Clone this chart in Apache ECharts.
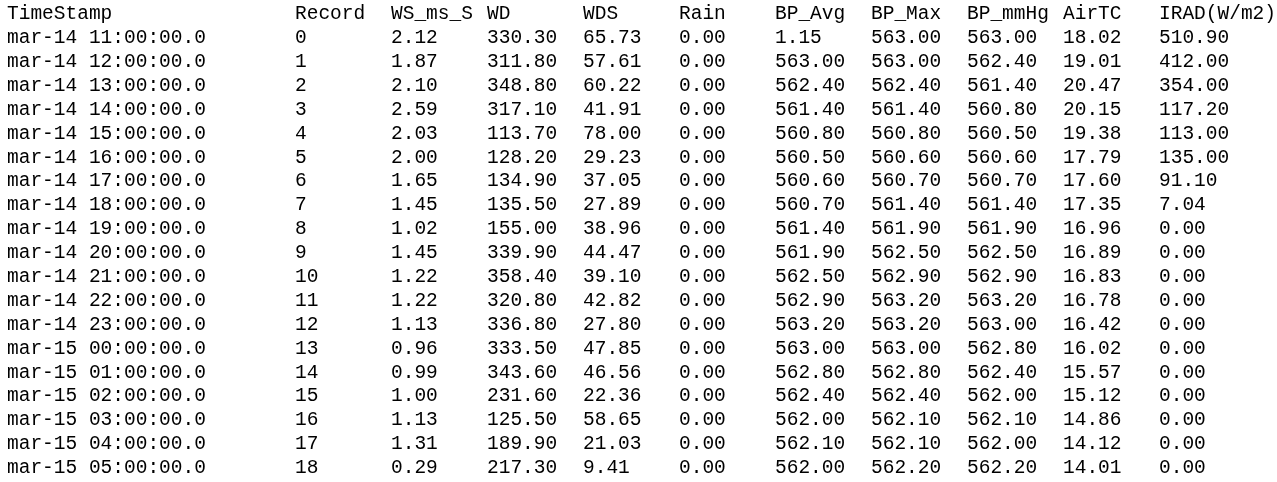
<!DOCTYPE html>
<html>
<head>
<meta charset="utf-8">
<script src="https://cdn.jsdelivr.net/npm/echarts@6/dist/echarts.min.js"></script>
<style>html,body{margin:0;padding:0;background:#fff}#main{width:1277px;height:482px}</style>
</head>
<body>
<div id="main"></div>
<script>
// column headers and the slot each one starts at
var headers = ['TimeStamp', 'Record', 'WS_ms_S', 'WD', 'WDS', 'Rain', 'BP_Avg', 'BP_Max', 'BP_mmHg', 'AirTC', 'IRAD(W/m2)'];
var headerSlots = [0, 3, 4, 5, 6, 7, 8, 9, 10, 11, 12];

var timestamps = ['mar-14 11:00:00.0', 'mar-14 12:00:00.0', 'mar-14 13:00:00.0', 'mar-14 14:00:00.0',
  'mar-14 15:00:00.0', 'mar-14 16:00:00.0', 'mar-14 17:00:00.0', 'mar-14 18:00:00.0', 'mar-14 19:00:00.0',
  'mar-14 20:00:00.0', 'mar-14 21:00:00.0', 'mar-14 22:00:00.0', 'mar-14 23:00:00.0', 'mar-15 00:00:00.0',
  'mar-15 01:00:00.0', 'mar-15 02:00:00.0', 'mar-15 03:00:00.0', 'mar-15 04:00:00.0', 'mar-15 05:00:00.0'];
var records = [0, 1, 2, 3, 4, 5, 6, 7, 8, 9, 10, 11, 12, 13, 14, 15, 16, 17, 18];
var wsMsS = [2.12, 1.87, 2.10, 2.59, 2.03, 2.00, 1.65, 1.45, 1.02, 1.45, 1.22, 1.22, 1.13, 0.96, 0.99, 1.00, 1.13, 1.31, 0.29];
var wd = [330.30, 311.80, 348.80, 317.10, 113.70, 128.20, 134.90, 135.50, 155.00, 339.90, 358.40, 320.80, 336.80, 333.50, 343.60, 231.60, 125.50, 189.90, 217.30];
var wds = [65.73, 57.61, 60.22, 41.91, 78.00, 29.23, 37.05, 27.89, 38.96, 44.47, 39.10, 42.82, 27.80, 47.85, 46.56, 22.36, 58.65, 21.03, 9.41];
var rain = [0, 0, 0, 0, 0, 0, 0, 0, 0, 0, 0, 0, 0, 0, 0, 0, 0, 0, 0];
var bpAvg = [1.15, 563.00, 562.40, 561.40, 560.80, 560.50, 560.60, 560.70, 561.40, 561.90, 562.50, 562.90, 563.20, 563.00, 562.80, 562.40, 562.00, 562.10, 562.00];
var bpMax = [563.00, 563.00, 562.40, 561.40, 560.80, 560.60, 560.70, 561.40, 561.90, 562.50, 562.90, 563.20, 563.20, 563.00, 562.80, 562.40, 562.10, 562.10, 562.20];
var bpMmHg = [563.00, 562.40, 561.40, 560.80, 560.50, 560.60, 560.70, 561.40, 561.90, 562.50, 562.90, 563.20, 563.00, 562.80, 562.40, 562.00, 562.10, 562.00, 562.20];
var airTC = [18.02, 19.01, 20.47, 20.15, 19.38, 17.79, 17.60, 17.35, 16.96, 16.89, 16.83, 16.78, 16.42, 16.02, 15.57, 15.12, 14.86, 14.12, 14.01];
var irad = [510.90, 412.00, 354.00, 117.20, 113.00, 135.00, 91.10, 7.04, 0, 0, 0, 0, 0, 0, 0, 0, 0, 0, 0];

var numCols = [wsMsS, wd, wds, rain, bpAvg, bpMax, bpMmHg, airTC, irad];

// build cells: [slot, row, text]; row 0 is the header
var cells = [];
headers.forEach(function (h, i) { cells.push([headerSlots[i], 0, h]); });
timestamps.forEach(function (t, r) {
  cells.push([0, r + 1, t]);
  cells.push([3, r + 1, String(records[r])]);
  numCols.forEach(function (col, c) {
    cells.push([4 + c, r + 1, col[r].toFixed(2)]);
  });
});

var slots = [];
for (var i = 0; i <= 12; i++) slots.push(i);
var rowsIdx = [];
for (var j = 0; j <= timestamps.length; j++) rowsIdx.push(j);

var chart = echarts.init(document.getElementById('main'));
chart.setOption({
  animation: false,
  grid: { left: 7, right: 118, top: 13, bottom: 15 },
  xAxis: { type: 'category', data: slots, boundaryGap: false, show: false },
  yAxis: { type: 'category', data: rowsIdx, boundaryGap: false, inverse: true, show: false },
  series: [{
    type: 'custom',
    data: cells,
    encode: { x: 0, y: 1 },
    renderItem: function (params, api) {
      var p = api.coord([api.value(0), api.value(1)]);
      return {
        type: 'text',
        style: {
          x: p[0], y: p[1] + 1,
          text: cells[params.dataIndex][2],
          fill: '#000',
          font: '19.5px "Liberation Mono", "DejaVu Sans Mono", monospace',
          textAlign: 'left',
          textVerticalAlign: 'middle'
        }
      };
    }
  }]
});
</script>
</body>
</html>
